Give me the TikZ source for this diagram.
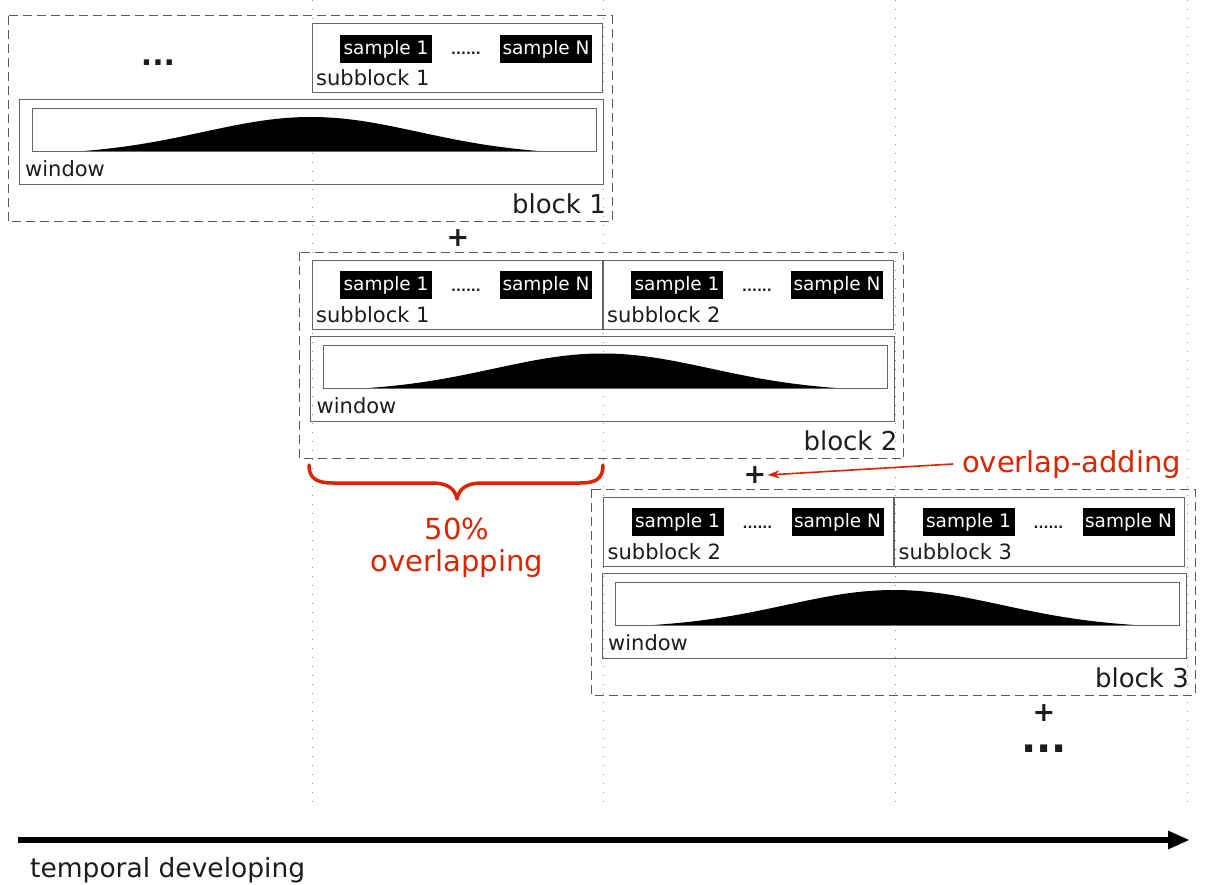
\documentclass[tikz,border=0pt]{standalone}
\usepackage{fontspec}
\setmainfont{DejaVu Sans}
\usetikzlibrary{arrows.meta}
\definecolor{accent}{RGB}{220,36,0}
\definecolor{ink}{RGB}{28,28,28}
\newcommand\fs[1]{\fontsize{#1}{#1}\selectfont}

% one subblock: #1 left, #2 top, #3 index, #4 name prefix
\newcommand\subblk[4]{%
  \draw[frame] (#1,#2) rectangle ++(290,69);
  \node[sample] (#4s1) at (#1+74,#2+25) {sample 1};
  \node[sepdots] (#4d) at (#1+154,#2+31) {......};
  \node[sample] (#4sn) at (#1+234,#2+25) {sample N};
  \node[lbl] (#4l) at (#1+4,#2+62) {subblock #3};
}
% frame, window and label of one block (local coordinates): #1 number, #2 prefix
\newcommand\blockbody[2]{%
  \draw[blockframe] (8,16) rectangle (612,222);
  \node[blocklbl] (#2lbl) at (606,214) {block #1};
  \draw[frame] (19,100) rectangle (603,185);
  \fill[black] (70,152) -- plot[domain=70:552, samples=121, smooth]
     (\x, {152-35*(exp(-0.5*((\x-311)/108)^2)-0.083)/0.917}) -- (552,152) -- cycle;
  \draw[frame] (32,109) rectangle (596,152);
  \node[lbl] (#2win) at (25,177) {window};
}

\begin{document}
\begin{tikzpicture}[x=1pt,y=-1pt,
  frame/.style={draw=black!60, line width=1pt},
  blockframe/.style={draw=black!65, line width=1pt, dash pattern=on 9pt off 5pt},
  guide/.style={draw=black!45, line width=0.9pt, dash pattern=on 1pt off 8pt},
  sample/.style={fill=black, text=white, font=\fs{18.5}, inner sep=0pt,
                 minimum width=92pt, minimum height=28pt},
  sepdots/.style={font=\bfseries\fs{13}, text=ink, anchor=base, inner sep=0pt},
  lbl/.style={font=\fs{21}, text=ink, anchor=base west, inner sep=0pt},
  blocklbl/.style={font=\fs{26}, text=ink, anchor=base east, inner sep=0pt},
  plus/.style={font=\bfseries\fs{27}, text=ink, inner sep=0pt},
  more/.style={font=\bfseries, text=ink, anchor=base, inner sep=0pt},
  note/.style={font=\fs{29}, text=accent, inner sep=0pt}]
\useasboundingbox (0,0) rectangle (1205,885);

% time grid
\foreach \gx in {312,603.5,895,1187}
  \draw[guide] (\gx,0) -- (\gx,808);

% block 1
\blockbody{1}{b1}
\node[more, font=\bfseries\fs{30}] (more1) at (158,66) {...};
\subblk{312}{24}{1}{b1a}

% block 2
\begin{scope}[shift={(291.5,236.5)}]
  \blockbody{2}{b2}
  \subblk{20.5}{24}{1}{b2a}
  \subblk{311.5}{24}{2}{b2b}
\end{scope}

% block 3
\begin{scope}[shift={(583,473)}]
  \blockbody{3}{b3}
  \subblk{20.5}{24}{2}{b3a}
  \subblk{311.5}{24}{3}{b3b}
\end{scope}

% overlap-add signs
\node[plus] (plus1) at (458,238) {+};
\node[plus] (plus2) at (755,475) {+};
\node[plus] (plus3) at (1044,713) {+};
\node[more, font=\bfseries\fs{40}] (more2) at (1044,752) {...};

% overlap annotation
\draw[accent, line width=3.5pt, line cap=round, line join=round]
  (309,465) .. controls (309,478) and (316,483) .. (333,483) -- (432,483)
  .. controls (448,483) and (455,489) .. (457,499)
  .. controls (459,489) and (466,483) .. (482,483) -- (580,483)
  .. controls (597,483) and (603,478) .. (603,465);
\node[note, align=center, anchor=north, font=\fontsize{29}{32}\selectfont] (ovlap) at (457,518) {50\%\\overlapping};

\node[note, anchor=base west] (ovadd) at (962,472) {overlap-adding};
\draw[accent, line width=1.6pt, -{Stealth[length=12pt,width=8pt]}]
  ([xshift=-9pt]ovadd.west) -- ([xshift=1pt]plus2.east);

% time axis
\coordinate (t0) at (18,840);
\coordinate (t1) at (1190,840);
\draw[line width=6pt, -{Triangle[length=22pt,width=17pt]}] (t0) -- (t1);
\node[lbl, font=\fs{26.5}] (tlbl) at (30,877) {temporal developing};
\end{tikzpicture}
\end{document}
